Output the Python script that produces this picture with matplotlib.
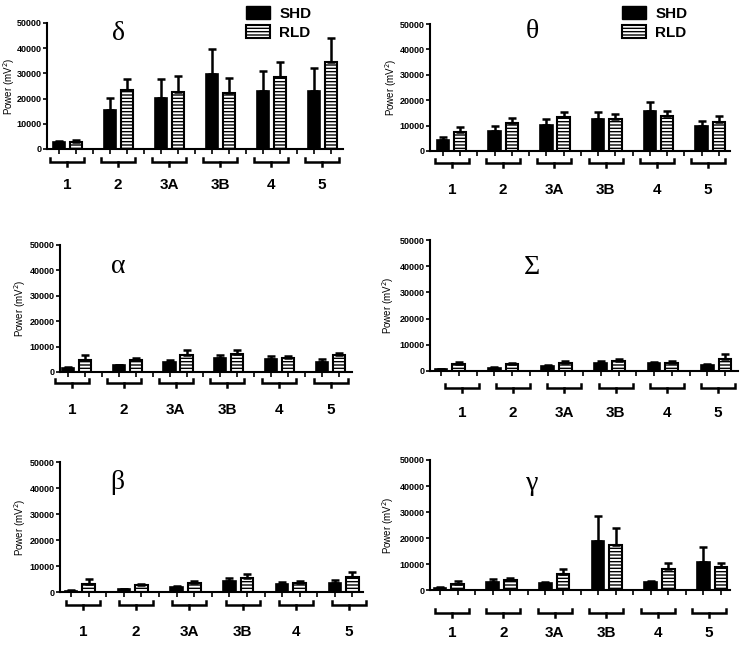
import numpy as np
import matplotlib.pyplot as plt
from matplotlib.patches import Patch

plt.rcParams["font.family"] = ["Liberation Sans", "DejaVu Sans"]
plt.rcParams["hatch.linewidth"] = 1.0

groups = ["1", "2", "3A", "3B", "4", "5"]

# mean values and upper error (SEM)
delta_shd = [2800, 15400, 20300, 29700, 23000, 23200]
delta_shd_err = [500, 5000, 7300, 10000, 8100, 9100]
delta_rld = [2800, 23400, 22700, 22300, 28600, 34700]
delta_rld_err = [600, 4200, 6200, 5700, 6100, 9200]

theta_shd = [4300, 8000, 10100, 12600, 15700, 9700]
theta_shd_err = [1100, 1900, 2500, 2800, 3600, 2100]
theta_rld = [7500, 11200, 13300, 12500, 13900, 11600]
theta_rld_err = [2100, 1600, 2000, 2000, 1900, 2200]

alpha_shd = [1700, 2600, 3900, 5700, 5300, 3900]
alpha_shd_err = [300, 300, 700, 900, 900, 1100]
alpha_rld = [4900, 4600, 6800, 7000, 5700, 6600]
alpha_rld_err = [1900, 1100, 1800, 1600, 700, 1000]

sigma_shd = [600, 1300, 1900, 3200, 2900, 2300]
sigma_shd_err = [200, 200, 300, 500, 400, 500]
sigma_rld = [2500, 2500, 3200, 3800, 3200, 4700]
sigma_rld_err = [1100, 700, 600, 700, 500, 1700]

beta_shd = [500, 1150, 1900, 4200, 3200, 3500]
beta_shd_err = [150, 150, 400, 1200, 650, 1200]
beta_rld = [3200, 2600, 3500, 5500, 3600, 5800]
beta_rld_err = [1800, 350, 900, 1400, 500, 1800]

gamma_shd = [900, 3200, 2800, 18800, 3100, 10900]
gamma_shd_err = [100, 1000, 400, 9700, 200, 5800]
gamma_rld = [2400, 3800, 6000, 17200, 7900, 8700]
gamma_rld_err = [900, 900, 2200, 6800, 2600, 1800]

W, H = 740, 649
fig = plt.figure(figsize=(W / 100, H / 100), dpi=100)

# symbol, data, axes box in px (l, r, t, b), xlim, symbol pos,
# first/last bracket centre px, bracket depth px, label depth px, ylabel x px
panels = [
    ("δ", delta_shd, delta_shd_err, delta_rld, delta_rld_err,
     (47, 343, 23, 149), (-0.7, 16.7), (0.24, 0.92), (67, 322), 13, 36, 9),
    ("θ", theta_shd, theta_shd_err, theta_rld, theta_rld_err,
     (430, 730, 24, 151), (-0.75, 16.64), (0.34, 0.94), (452, 708), 12, 39, 391),
    ("α", alpha_shd, alpha_shd_err, alpha_rld, alpha_rld_err,
     (60, 352, 245, 372), (-0.47, 16.77), (0.2, 0.83), (72, 331), 11, 38, 20),
    ("Σ", sigma_shd, sigma_shd_err, sigma_rld, sigma_rld_err,
     (430, 738, 240, 371), (-0.62, 16.73), (0.33, 0.79), (462, 718), 17, 42, 388),
    ("β", beta_shd, beta_shd_err, beta_rld, beta_rld_err,
     (60, 363, 462, 592), (-0.63, 16.6), (0.19, 0.84), (83, 349), 13, 40, 20),
    ("γ", gamma_shd, gamma_shd_err, gamma_rld, gamma_rld_err,
     (430, 730, 460, 590), (-0.57, 16.51), (0.34, 0.82), (452, 709), 23, 43, 388),
]

pos = np.arange(len(groups)) * 3
width = 0.72

for sym, shd, shd_e, rld, rld_e, (l, r, t, b), xlim, sxy, bc, brk, lab, ylx in panels:
    ax = fig.add_axes([l / W, 1 - b / H, (r - l) / W, (b - t) / H])
    ax.bar(pos, shd, width, color="black", edgecolor="black", linewidth=1.2,
           yerr=[np.zeros(len(shd)), shd_e], capsize=3,
           error_kw=dict(elinewidth=1.8, capthick=1.8, ecolor="black"))
    ax.bar(pos + 1, rld, width, color="white", edgecolor="black", linewidth=1.5,
           hatch="-----",
           yerr=[np.zeros(len(rld)), rld_e], capsize=3,
           error_kw=dict(elinewidth=1.8, capthick=1.8, ecolor="black"))
    ax.set_xlim(*xlim)
    ax.set_ylim(0, 50000)
    ax.set_yticks(range(0, 50001, 10000))
    ax.set_xticks(np.arange(0, 17))
    ax.set_xticklabels([])
    ax.tick_params(axis="x", length=3.5, width=1.2)
    ax.tick_params(axis="y", length=3, width=1.2, labelsize=6.5, pad=1)
    for tl in ax.get_yticklabels():
        tl.set_fontweight("bold")
    for s in ["top", "right"]:
        ax.spines[s].set_visible(False)
    for s in ["left", "bottom"]:
        ax.spines[s].set_linewidth(1.5)
    wpx, hpx = r - l, b - t
    ax.set_ylabel("Power (mV$^2$)", fontsize=7)
    ax.yaxis.set_label_coords((ylx - l) / wpx, 0.5)
    ax.yaxis.label.set_va("center")
    ax.text(sxy[0], sxy[1], sym, transform=ax.transAxes, fontsize=20,
            family=["Liberation Serif", "DejaVu Serif"], ha="center", va="center")

    # group brackets below the axis (placed in pixels of the original figure)
    yb = -brk / hpx
    hook = 4 / hpx
    half = 17 / wpx
    centres = np.linspace(bc[0], bc[1], len(groups))
    for g, cp in zip(groups, centres):
        c = (cp - l) / wpx
        ax.plot([c - half, c - half, c + half, c + half],
                [yb + hook, yb, yb, yb + hook], color="black", lw=1.8,
                transform=ax.transAxes, clip_on=False, solid_joinstyle="miter")
        ax.plot([c, c], [yb, yb - hook], color="black", lw=1.8,
                transform=ax.transAxes, clip_on=False)
        ax.text(c, -lab / hpx, g, transform=ax.transAxes, ha="center",
                va="center", fontsize=11, fontweight="bold")

handles = [Patch(facecolor="black", edgecolor="black", label="SHD"),
           Patch(facecolor="white", edgecolor="black", hatch="-----", linewidth=1.5,
                 label="RLD")]
for x in (235, 611):
    fig.legend(handles=handles, loc="upper left", bbox_to_anchor=(x / W, 1 + 5 / H),
               frameon=False, prop=dict(weight="bold", size=11), handlelength=1.6,
               handleheight=1.0, labelspacing=0.25, handletextpad=0.6, borderpad=0.2)

fig.savefig("out.png", dpi=100)
